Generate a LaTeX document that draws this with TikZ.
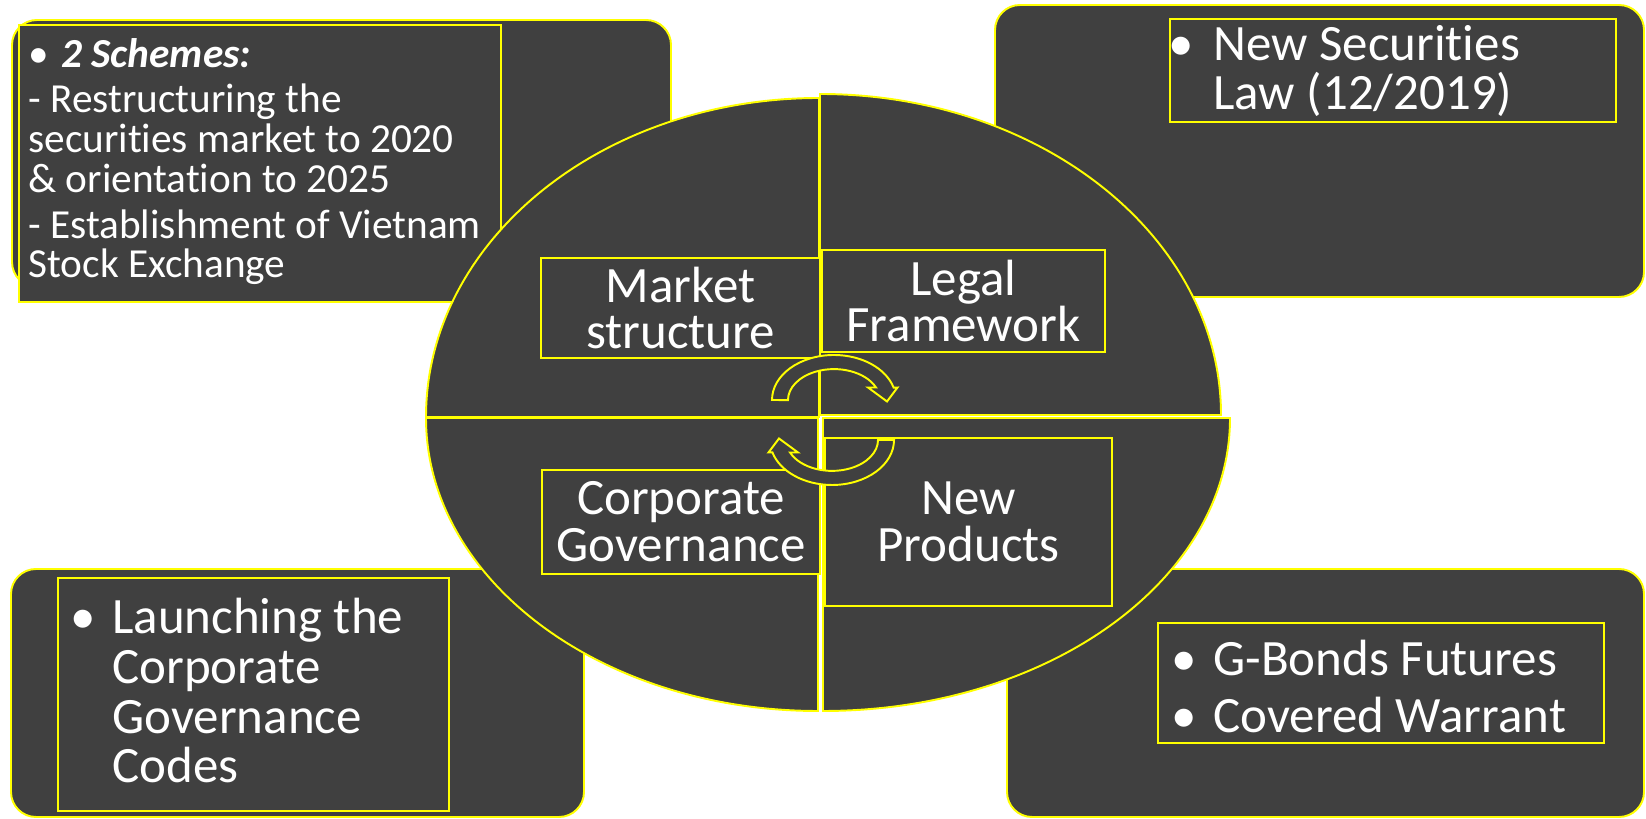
\documentclass[tikz,border=0pt]{standalone}
\usepackage{fontspec}
\setmainfont{Carlito}[Ligatures=CommonOff]
\definecolor{slate}{HTML}{404040}
\definecolor{edge}{HTML}{FFFF00}
\begin{document}
\begin{tikzpicture}[
  panel/.style={draw=edge,fill=slate,line width=1.1pt},
  roundpanel/.style={panel,rounded corners=0.5cm},
  bigtext/.style={text=white,inner sep=0pt,align=left,font=\fontsize{29}{28.35}\selectfont},
  smalltext/.style={text=white,inner sep=0pt,align=left,font=\fontsize{23.5}{22.7}\selectfont},
  quartertext/.style={text=white,align=center,font=\fontsize{29}{26.6}\selectfont}
]

\useasboundingbox (0,0) rectangle (32.92,16.38);
\fill[white] (0,0) rectangle (32.92,16.38);

% corner panels
\draw[roundpanel] (0.24,10.64) rectangle (13.42,15.98);
\draw[roundpanel] (19.90,10.44) rectangle (32.88,16.28);
\draw[roundpanel] (0.22,0.04) rectangle (11.68,5.00);
\draw[roundpanel] (20.14,0.04) rectangle (32.88,5.00);

\draw[panel] (0.38,10.34) rectangle (10.02,15.88);
\draw[panel] (23.40,13.94) rectangle (32.32,16.00);
\draw[panel] (1.16,0.16) rectangle (8.98,4.82);
\draw[panel] (23.16,1.52) rectangle (32.08,3.92);

% the four quarters
\draw[panel] (16.38,8.04) -- (8.52,8.04) arc[start angle=180,end angle=90,x radius=7.86cm,y radius=6.38cm] -- cycle;
\draw[panel] (16.40,8.08) -- (16.40,14.50) arc[start angle=90,end angle=0,x radius=8.02cm,y radius=6.42cm] -- cycle;
\draw[panel] (16.36,8.02) -- (8.52,8.02) arc[start angle=180,end angle=270,x radius=7.84cm,y radius=5.86cm] -- cycle;
\draw[panel] (16.46,8.02) -- (24.60,8.02) arc[start angle=0,end angle=-90,x radius=8.14cm,y radius=5.86cm] -- cycle;

\draw[panel] (10.82,9.22) rectangle (16.40,11.22) node[pos=0.5,quartertext] (market) {Market\\structure};
\draw[panel] (16.44,9.34) rectangle (22.10,11.38) node[pos=0.5,quartertext] (legal) {Legal\\Framework};
\draw[panel] (10.84,4.90) rectangle (16.40,6.98) node[pos=0.5,quartertext] (governance) {Corporate\\Governance};
\draw[panel] (16.50,4.26) rectangle (22.24,7.62) node[pos=0.5,quartertext] (newproducts) {New\\Products};

% cycle arrows
\draw[panel,shift={(16.68,8.38)}] (-1.24,0) arc[start angle=180,end angle=16,x radius=1.24cm,y radius=0.9cm] -- (1.27,0.25) -- (1.06,-0.03) -- (0.68,0.25) -- (0.84,0.25) arc[start angle=24,end angle=180,x radius=0.92cm,y radius=0.62cm] -- cycle;
\draw[panel,shift={(16.64,7.58)},rotate=180] (-1.24,0) arc[start angle=180,end angle=16,x radius=1.24cm,y radius=0.9cm] -- (1.27,0.25) -- (1.06,-0.03) -- (0.68,0.25) -- (0.84,0.25) arc[start angle=24,end angle=180,x radius=0.92cm,y radius=0.62cm] -- cycle;

% panel texts (base = last line)
\node[smalltext,anchor=base west] (schemes) at (0.56,10.82) {\makebox[0.66cm][l]{•}\textbf{\textit{2 Schemes:}}\\[0.1cm]- Restructuring the\\securities market to 2020\\\& orientation to 2025\\[0.12cm]- Establishment of Vietnam\\Stock Exchange};
\node[bigtext,anchor=base west] (law) at (23.36,14.18) {\makebox[0.90cm][l]{•}New Securities\\\hspace*{0.90cm}Law (12/2019)};
\node[bigtext,anchor=base west] (codes) at (1.40,0.72) {\makebox[0.84cm][l]{•}Launching the\\\hspace*{0.84cm}Corporate\\\hspace*{0.84cm}Governance\\\hspace*{0.84cm}Codes};
\node[bigtext,anchor=base west] (bonds) at (23.42,1.72) {\makebox[0.84cm][l]{•}G-Bonds Futures\\[0.16cm]\makebox[0.84cm][l]{•}Covered Warrant};

\end{tikzpicture}
\end{document}
